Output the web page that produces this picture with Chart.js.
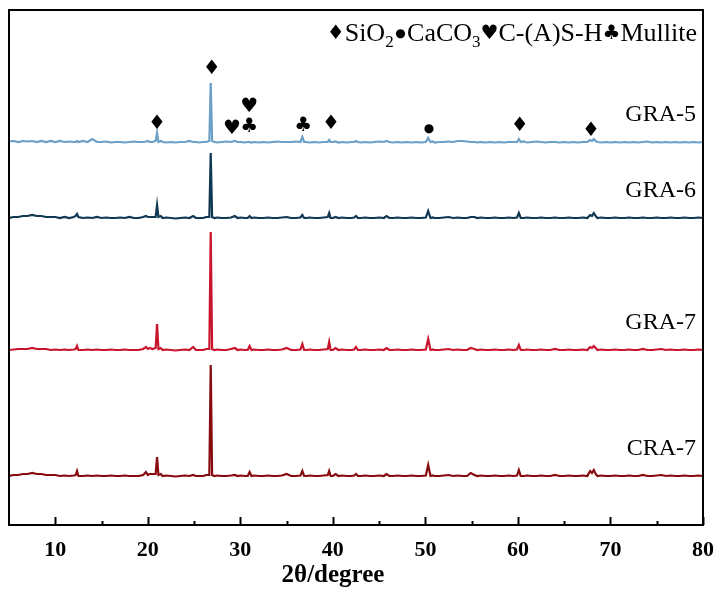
<!DOCTYPE html>
<html>
<head>
<meta charset="utf-8">
<script src="https://cdn.jsdelivr.net/npm/chart.js@4/dist/chart.umd.min.js"></script>
<style>
  html, body { margin: 0; padding: 0; background: #fff; }
  #chart-wrapper { width: 720px; height: 595px; }
</style>
</head>
<body>
<div id="chart-wrapper"><canvas id="xrdCanvas" width="720" height="595"></canvas></div>
<script>
// 2θ sampling points (degrees)
const twoTheta = [
  5.0, 5.5, 6.0, 6.5, 7.0, 7.5, 8.0, 8.5, 9.0, 9.5,
  10.0, 10.5, 11.0, 11.5, 12.0, 12.2, 12.35, 12.5, 13.0, 13.5,
  14.0, 14.5, 15.0, 15.5, 16.0, 16.5, 17.0, 17.5, 18.0, 18.5,
  19.0, 19.5, 19.8, 20.0, 20.2, 20.5, 20.85, 21.0, 21.15, 21.4,
  21.6, 22.0, 22.5, 23.0, 23.5, 24.0, 24.5, 24.9, 25.2, 25.5,
  26.0, 26.3, 26.65, 26.8, 26.95, 27.2, 27.5, 28.0, 28.5, 29.0,
  29.4, 29.7, 30.0, 30.5, 30.8, 31.0, 31.2, 31.5, 32.0, 32.5,
  33.0, 33.5, 34.0, 34.5, 35.0, 35.5, 36.0, 36.5, 36.7, 36.9,
  37.1, 37.5, 38.0, 38.5, 39.0, 39.45, 39.6, 39.75, 40.0, 40.3,
  40.6, 41.0, 41.5, 42.0, 42.3, 42.5, 42.7, 43.0, 43.5, 44.0,
  44.5, 45.0, 45.5, 45.8, 46.1, 46.5, 47.0, 47.5, 48.0, 48.5,
  49.0, 49.5, 50.05, 50.3, 50.55, 50.8, 51.0, 51.5, 52.0, 52.5,
  53.0, 53.5, 54.0, 54.5, 54.9, 55.3, 55.6, 56.0, 56.5, 57.0,
  57.5, 58.0, 58.5, 59.0, 59.5, 59.9, 60.1, 60.3, 60.6, 61.0,
  61.5, 62.0, 62.5, 63.0, 63.5, 64.0, 64.5, 65.0, 65.5, 66.0,
  66.5, 67.0, 67.5, 67.8, 68.0, 68.2, 68.4, 68.6, 69.0, 69.5,
  70.0, 70.5, 71.0, 71.5, 72.0, 72.5, 73.0, 73.5, 74.0, 74.5,
  75.0, 75.5, 76.0, 76.5, 77.0, 77.5, 78.0, 78.5, 79.0, 79.5,
  80.0
];

// intensities above each trace's own baseline (a.u.)
const gra5 = [
  1.5, 2, 1, 2, 1.5, 2, 1, 2, 1, 2,
  1, 2, 1, 1.5, 1, 1, 2, 1, 2, 1,
  4, 1, 1, 1.5, 0.5, 1, 1, 0.5, 1, 1.5,
  1, 1, 1.5, 2, 1, 1, 2, 10, 1, 2,
  1, 0.5, 1, 0.5, 1, 1, 2, 1, 1, 0.5,
  1, 1, 2, 60, 2, 1, 0.5, 1, 1.5, 1,
  2, 1, 1, 0.5, 1, 1, 0.5, 1, 0.5, 1,
  0.5, 1, 1.5, 1, 1, 1, 1.5, 1, 6, 1,
  1, 0.5, 1, 0.5, 1, 1, 3, 1, 1, 1.5,
  0.5, 1, 0.5, 1, 1, 2, 1, 0.5, 1, 0.5,
  1, 1.5, 1, 2, 1, 0.5, 1, 0.5, 1, 0.5,
  1, 0.5, 1, 5, 1, 1.5, 0.5, 1, 1, 1.5,
  1, 2, 2, 1.5, 1, 1, 0.5, 1, 0.5, 1,
  0.5, 1, 0.5, 1, 1, 1, 4, 1, 1.5, 0.5,
  1, 1.5, 1, 0.5, 1, 1, 0.5, 1, 0.5, 1,
  0.5, 1, 1, 3, 2, 4, 2, 1, 0.5, 1,
  0.5, 1, 0.5, 1, 0.5, 1, 0.5, 1, 1.5, 0.5,
  1, 0.5, 1, 0.5, 1, 0.5, 1, 0.5, 1, 0.5,
  1
];

const gra6 = [
  1, 2, 2, 3, 3, 4, 3, 3, 2, 2,
  2, 1, 2, 1, 2, 3, 5, 2, 1, 1.5,
  1, 2, 1, 1.5, 1, 1, 1.5, 1, 2, 1,
  1, 2, 3, 2, 2, 2, 2, 14, 2, 3,
  1, 1.5, 1, 0.5, 1, 1.5, 1, 3, 1, 1,
  1, 2, 2, 66, 2, 1, 1.5, 1, 1, 1.5,
  3, 1, 1.5, 1, 1, 3, 1, 1.5, 1, 1,
  1.5, 1, 1, 1.5, 2, 1, 1, 1.5, 4, 1,
  1, 1.5, 1, 1, 1.5, 2, 6, 1, 1, 2,
  1, 1.5, 1, 1, 1.5, 3, 1, 1, 1.5, 1,
  1, 1.5, 1, 3, 1, 1, 1.5, 1, 1, 1.5,
  1, 1, 1.5, 8, 1, 1.5, 1, 1, 1.5, 2,
  1, 1.5, 1, 1, 2, 2, 1, 1.5, 1, 1,
  1.5, 1, 1, 1.5, 1, 1.5, 6, 1, 1, 1.5,
  1, 1, 1.5, 1, 1, 1.5, 1, 1, 1.5, 1,
  1, 1.5, 1, 4, 3, 6, 3, 1, 1.5, 1,
  1, 1.5, 1, 1, 1.5, 1, 1, 1.5, 1, 1,
  1.5, 1, 1, 1.5, 1, 1, 1.5, 1, 1, 1.5,
  1
];

const gra7 = [
  1, 1.5, 2, 2, 2, 3, 2, 2, 2, 1,
  1.5, 1, 1.5, 1, 1.5, 2, 5, 1, 1, 1.5,
  1, 1.5, 1, 1, 1.5, 1, 1, 1.5, 1, 1,
  1, 2, 4, 2, 3, 2, 3, 27, 2, 3,
  1, 1.5, 1, 0.5, 1, 1.5, 1, 4, 1, 1,
  1, 2, 2, 119, 2, 1, 1.5, 1, 1, 2,
  3, 1, 1.5, 1, 1, 5, 1, 1.5, 1, 1,
  1.5, 1, 1, 1.5, 3, 1, 1, 1.5, 7, 1,
  1, 1.5, 1, 1, 1.5, 2, 9, 1, 1, 3,
  1, 1.5, 1, 1, 1.5, 4, 1, 1, 1.5, 1,
  1, 1.5, 1, 3, 1, 1, 1.5, 1, 1, 1.5,
  1, 1, 1.5, 12, 1, 1.5, 1, 1, 1.5, 2,
  1, 1.5, 1, 1, 3, 2, 1, 1.5, 1, 1,
  1.5, 1, 1, 1.5, 1, 1.5, 6, 1, 1, 1.5,
  1, 1, 1.5, 1, 1, 2, 1, 1, 1.5, 1,
  1, 1.5, 1, 4, 3, 5, 3, 1, 1.5, 1,
  1, 1.5, 1, 1, 1.5, 1, 1, 2, 1, 1,
  1.5, 2, 1, 1.5, 1, 1, 1.5, 1, 1, 1.5,
  1
];

const cra7 = [
  1, 2, 2, 3, 3, 4, 3, 3, 2, 2,
  2, 1, 1.5, 1, 1.5, 2, 6, 1, 1, 1.5,
  1, 1.5, 1, 1, 1.5, 1, 1, 1.5, 1, 1,
  1, 2, 5, 2, 3, 3, 3, 20, 2, 3,
  1, 1.5, 1, 0.5, 1, 1.5, 1, 2, 1, 1,
  1, 2, 2, 112, 2, 1, 1.5, 1, 1, 1.5,
  2, 1, 1.5, 1, 1, 5, 1, 1.5, 1, 1,
  1.5, 1, 1, 1.5, 3, 1, 1, 1.5, 6, 1,
  1, 1.5, 1, 1, 1.5, 2, 6, 1, 1, 3,
  1, 1.5, 1, 1, 1.5, 3, 1, 1, 1.5, 1,
  1, 1.5, 1, 3, 1, 1, 1.5, 1, 1, 1.5,
  1, 1, 1.5, 12, 1, 1.5, 1, 1, 1.5, 2,
  1, 1.5, 1, 1, 4, 2, 1, 1.5, 1, 1,
  1.5, 1, 1, 1.5, 1, 1.5, 7, 1, 1, 1.5,
  1, 1, 1.5, 1, 1, 2, 1, 1, 1.5, 1,
  1, 1.5, 1, 6, 4, 7, 3, 1, 1.5, 1,
  1, 1.5, 1, 1, 1.5, 1, 1, 2, 1, 1,
  1.5, 2, 1, 1.5, 1, 1, 1.5, 1, 1, 1.5,
  1
];

const seriesNames = ['GRA-5', 'GRA-6', 'GRA-7', 'CRA-7'];
const seriesValues = [gra5, gra6, gra7, cra7];
const seriesColors = ['#6ca0c6', '#103852', '#c8142d', '#870a0f'];
const baselineOffsets = [382, 306, 174, 48];

const majorTicks = [10, 20, 30, 40, 50, 60, 70, 80];
const minorTicks = [15, 25, 35, 45, 55, 65, 75];

// phase markers above GRA-5: symbol, 2θ, lift above baseline
const phaseMarks = [
  { symbol: '♦', at: 21.0, lift: 19 },
  { symbol: '♦', at: 26.9, lift: 74 },
  { symbol: '♥', at: 29.1, lift: 14 },
  { symbol: '♥', at: 30.95, lift: 36 },
  { symbol: '♣', at: 30.95, lift: 16 },
  { symbol: '♣', at: 36.8, lift: 17 },
  { symbol: '♦', at: 39.8, lift: 19 },
  { symbol: '●', at: 50.4, lift: 14 },
  { symbol: '♦', at: 60.2, lift: 17 },
  { symbol: '♦', at: 67.9, lift: 12 }
];

const legendParts = [
  { text: '♦', symbol: true }, { text: 'SiO' }, { text: '2', sub: true },
  { text: '●', dot: true }, { text: 'CaCO' }, { text: '3', sub: true },
  { text: '♥', symbol: true }, { text: 'C-(A)S-H' },
  { text: '♣', symbol: true }, { text: 'Mullite' }
];

const serif = '"Liberation Serif", "Times New Roman", serif';
const symbolFont = '"DejaVu Sans", sans-serif';

const datasets = seriesValues.map((vals, k) => ({
  label: seriesNames[k],
  data: twoTheta.map((t, i) => ({ x: t, y: baselineOffsets[k] + vals[i] })),
  borderColor: seriesColors[k],
  borderWidth: 2.2,
  pointRadius: 0,
  tension: 0,
  fill: false
}));

const decorPlugin = {
  id: 'xrdDecor',
  beforeDraw(chart) {
    const ctx = chart.ctx;
    ctx.save();
    ctx.fillStyle = '#fff';
    ctx.fillRect(0, 0, chart.width, chart.height);
    ctx.restore();
  },
  afterDatasetsDraw(chart) {
    const { ctx, chartArea: a, scales: { x, y } } = chart;
    ctx.save();

    // frame + inward ticks
    ctx.strokeStyle = '#000';
    ctx.lineWidth = 2;
    ctx.strokeRect(a.left, a.top, a.right - a.left, a.bottom - a.top);
    majorTicks.concat(minorTicks).forEach(v => {
      const px = Math.round(x.getPixelForValue(v)) + 0.5;
      const len = majorTicks.includes(v) ? 8 : 4;
      ctx.beginPath();
      ctx.moveTo(px, a.bottom);
      ctx.lineTo(px, a.bottom - len);
      ctx.stroke();
    });

    // series names
    ctx.fillStyle = '#000';
    ctx.font = '24px ' + serif;
    ctx.textAlign = 'right';
    ctx.textBaseline = 'middle';
    seriesNames.forEach((name, k) => {
      ctx.fillText(name, a.right - 7, y.getPixelForValue(baselineOffsets[k] + 28));
    });

    // phase markers
    ctx.textAlign = 'center';
    phaseMarks.forEach(m => {
      ctx.font = (m.symbol === '●' ? '12px ' : '20px ') + symbolFont;
      ctx.fillText(m.symbol, x.getPixelForValue(m.at), y.getPixelForValue(baselineOffsets[0] + m.lift));
    });

    // phase legend, right aligned at top
    const fontOf = p => {
      if (p.symbol) return '20px ' + symbolFont;
      if (p.dot) return '12px ' + symbolFont;
      return (p.sub ? '17px ' : '26px ') + serif;
    };
    const widthOf = p => {
      ctx.font = fontOf(p);
      return ctx.measureText(p.text).width + (p.dot ? 3 : 0);
    };
    const total = legendParts.reduce((s, p) => s + widthOf(p), 0);
    let cx = a.right - 6 - total;
    const base = 41;
    ctx.textAlign = 'left';
    ctx.textBaseline = 'alphabetic';
    legendParts.forEach(p => {
      const w = widthOf(p);
      ctx.font = fontOf(p);
      let yy = base;
      if (p.sub) yy = base + 6;
      else if (p.symbol) yy = base - 2;
      else if (p.dot) yy = base - 4;
      ctx.fillText(p.text, cx + (p.dot ? 1.5 : 0), yy);
      cx += w;
    });

    // x axis title
    ctx.font = 'bold 25px ' + serif;
    ctx.textAlign = 'center';
    ctx.fillText('2θ/degree', (a.left + a.right) / 2 - 23, 582);

    ctx.restore();
  }
};

new Chart(document.getElementById('xrdCanvas'), {
  type: 'line',
  data: { datasets: datasets },
  options: {
    responsive: false,
    animation: false,
    devicePixelRatio: 1,
    layout: { padding: { left: 9, right: 17, top: 10, bottom: 0 } },
    plugins: { legend: { display: false }, tooltip: { enabled: false } },
    scales: {
      x: {
        type: 'linear',
        min: 5,
        max: 80,
        afterBuildTicks: scale => { scale.ticks = majorTicks.map(v => ({ value: v })); },
        afterFit: scale => {
          scale.height = 70;
          scale.paddingLeft = 0;
          scale.paddingRight = 0;
        },
        grid: { display: false, drawTicks: false },
        border: { display: false },
        ticks: {
          padding: 12,
          color: '#000',
          maxRotation: 0,
          font: { family: serif, size: 22, weight: 'bold' }
        }
      },
      y: {
        display: false,
        min: 0,
        max: 515
      }
    }
  },
  plugins: [decorPlugin]
});
</script>
</body>
</html>
